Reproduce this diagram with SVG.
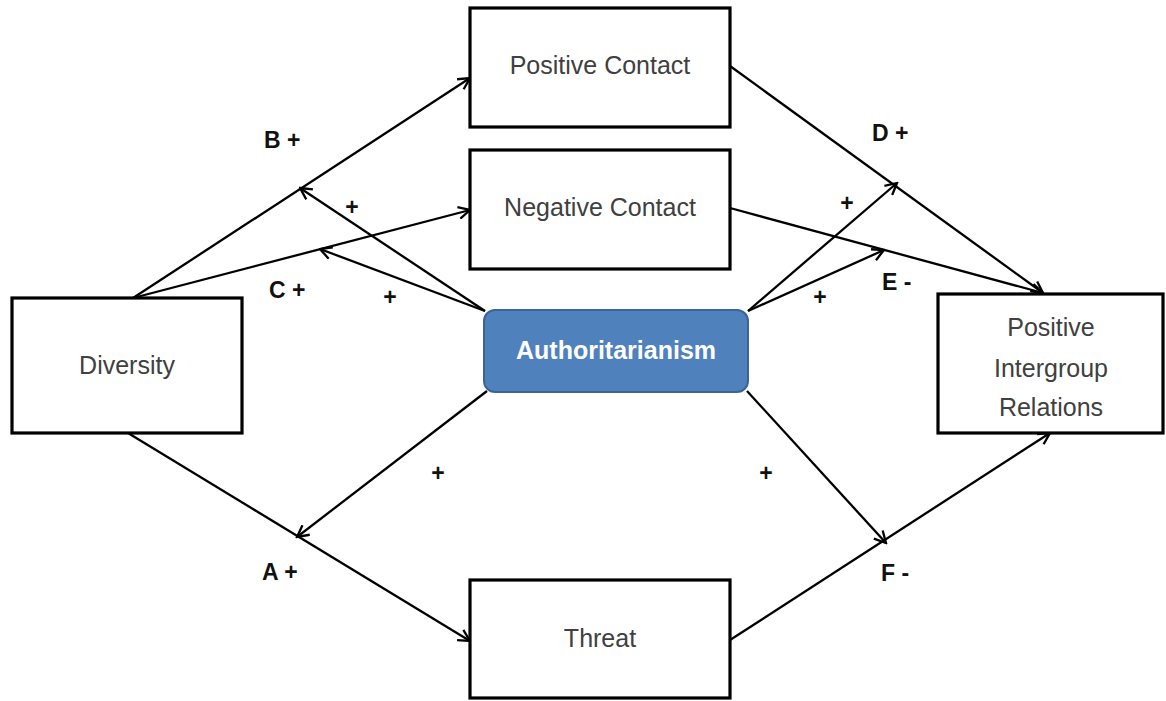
<svg xmlns="http://www.w3.org/2000/svg" width="1166" height="701" viewBox="0 0 1166 701">
  <style>
    .box { fill: #ffffff; stroke: #000000; stroke-width: 3.2; }
    .auth { fill: #4F81BD; stroke: #3A6599; stroke-width: 2; }
    .lbl { font-family: "Liberation Sans", Arial, sans-serif; font-size: 25px; fill: #404040; text-anchor: middle; }
    .authlbl { font-family: "Liberation Sans", Arial, sans-serif; font-size: 25px; font-weight: bold; fill: #ffffff; text-anchor: middle; }
    .path { font-family: "Liberation Sans", Arial, sans-serif; font-size: 23px; font-weight: bold; fill: #111111; }
    .pm { text-anchor: middle; }
    .conn { stroke: #000000; stroke-width: 2.3; fill: none; marker-end: url(#arrow); }
  </style>
  <defs>
    <marker id="arrow" viewBox="0 0 14 14" refX="12.5" refY="7" markerWidth="14" markerHeight="14" markerUnits="userSpaceOnUse" orient="auto">
      <path d="M1,1 L12.5,7 L1,13" fill="none" stroke="#000000" stroke-width="2.3"/>
    </marker>
  </defs>
  <rect width="1166" height="701" fill="#ffffff"/>

  <g id="connectors">
    <path id="edge-B" class="conn" d="M133,298 L470,78"/>
    <path id="edge-C" class="conn" d="M133,298 L470,210"/>
    <path id="edge-A" class="conn" d="M128,433 L470,641"/>
    <path id="edge-D" class="conn" d="M730,66 L1043,293"/>
    <path id="edge-E" class="conn" d="M730,208 L1043,293"/>
    <path id="edge-F" class="conn" d="M730,640 L1050,433"/>
    <path id="mod-B" class="conn" d="M485,311 L300,188"/>
    <path id="mod-C" class="conn" d="M485,311 L320,249"/>
    <path id="mod-D" class="conn" d="M748,311 L897,183"/>
    <path id="mod-E" class="conn" d="M748,311 L884,250"/>
    <path id="mod-A" class="conn" d="M487,391 L297,537"/>
    <path id="mod-F" class="conn" d="M747,391 L886,543"/>
  </g>

  <g id="labels">
    <text class="path" x="264" y="148">B +</text>
    <text class="path pm" x="352" y="215">+</text>
    <text class="path" x="269" y="298">C +</text>
    <text class="path pm" x="390" y="305">+</text>
    <text class="path" x="872" y="141">D +</text>
    <text class="path pm" x="847" y="211">+</text>
    <text class="path" x="882" y="290">E -</text>
    <text class="path pm" x="820" y="305">+</text>
    <text class="path" x="262" y="580">A +</text>
    <text class="path pm" x="438" y="481">+</text>
    <text class="path pm" x="766" y="481">+</text>
    <text class="path" x="881" y="581">F -</text>
  </g>

  <g id="node-diversity">
    <rect class="box" x="12" y="298" width="230" height="135"/>
    <text class="lbl" x="127" y="374">Diversity</text>
  </g>
  <g id="node-positive-contact">
    <rect class="box" x="470" y="8" width="260" height="119"/>
    <text class="lbl" x="600" y="74">Positive Contact</text>
  </g>
  <g id="node-negative-contact">
    <rect class="box" x="470" y="150" width="260" height="119"/>
    <text class="lbl" x="600" y="216">Negative Contact</text>
  </g>
  <g id="node-threat">
    <rect class="box" x="470" y="580" width="260" height="118"/>
    <text class="lbl" x="600" y="647">Threat</text>
  </g>
  <g id="node-pir">
    <rect class="box" x="938" y="294" width="225" height="139"/>
    <text class="lbl" x="1051" y="336">Positive</text>
    <text class="lbl" x="1051" y="377">Intergroup</text>
    <text class="lbl" x="1051" y="416">Relations</text>
  </g>
  <g id="node-authoritarianism">
    <rect class="auth" x="484" y="310" width="264" height="82" rx="11" ry="11"/>
    <text class="authlbl" x="616" y="359">Authoritarianism</text>
  </g>
</svg>
